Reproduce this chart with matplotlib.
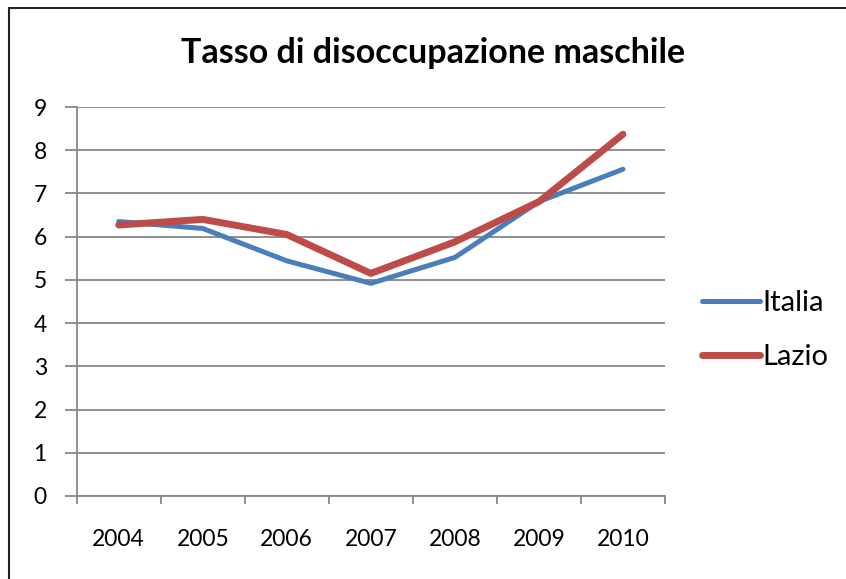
import matplotlib
matplotlib.use("Agg")
import matplotlib.pyplot as plt
from matplotlib.patches import Rectangle

years = ["2004", "2005", "2006", "2007", "2008", "2009", "2010"]
italia = [6.35, 6.19, 5.44, 4.92, 5.52, 6.81, 7.56]
lazio = [6.27, 6.40, 6.05, 5.15, 5.88, 6.81, 8.37]
title = "Tasso di disoccupazione maschile"

plt.rcParams['font.family'] = ['Lato', 'DejaVu Sans']

W, H = 846, 579
fig = plt.figure(figsize=(W / 100, H / 100), dpi=100)
fig.patch.set_facecolor("white")

# outer chart border
fig.add_artist(Rectangle((9 / W, -0.01), 1.0, 1 - 7.5 / H + 0.01, transform=fig.transFigure,
                         fill=False, edgecolor="#222222", linewidth=1.5))

ax = fig.add_axes([76.7 / W, 1 - 496 / H, (665 - 76.7) / W, (496 - 107) / H])
x = [i + 0.5 for i in range(len(years))]
gray = "#878787"

ax.plot(x, italia, color="#4A7EBB", linewidth=3.6, solid_capstyle="round",
        solid_joinstyle="round", label="Italia", zorder=3)
ax.plot(x, lazio, color="#BE4B48", linewidth=5.0, solid_capstyle="round",
        solid_joinstyle="round", label="Lazio", zorder=4)

ax.set_xlim(0, len(years))
ax.set_ylim(0, 9)
ax.set_yticks(range(0, 10))
ax.set_xticks(range(0, len(years) + 1))
ax.set_xticklabels([])
ax.set_xticks(x, minor=True)
ax.set_xticklabels(years, minor=True)
ax.tick_params(axis="x", which="minor", length=0, pad=24, labelsize=16.5)
ax.tick_params(axis="x", which="major", direction="out", length=6, color=gray, width=1.3)
ax.tick_params(axis="y", direction="out", length=8.5, color=gray, width=1.3, labelsize=16.5, pad=13)
ax.grid(axis="y", color=gray, linewidth=1.3)
ax.set_axisbelow(True)
for s in ["top", "right"]:
    ax.spines[s].set_visible(False)
for s in ["left", "bottom"]:
    ax.spines[s].set_color(gray)
    ax.spines[s].set_linewidth(1.3)

fig.text(433 / W, 1 - 53 / H, title, ha="center", va="center", fontsize=24.5, fontweight="bold")

leg = fig.legend(loc="center left", bbox_to_anchor=(702 / W, 1 - 330 / H), frameon=False,
                 fontsize=21, handlelength=2.0, handletextpad=0.08, labelspacing=0.95,
                 borderpad=0, borderaxespad=0)

fig.savefig("out.png", dpi=100)
